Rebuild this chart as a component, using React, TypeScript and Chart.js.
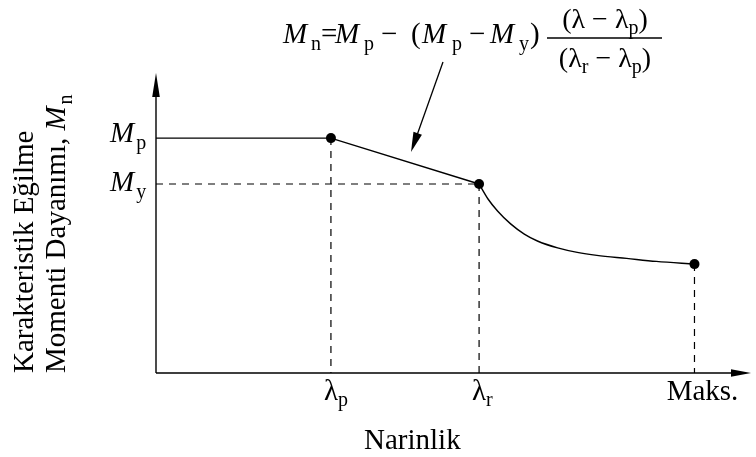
import React, { useEffect, useRef } from "react";
import { Chart, registerables } from "chart.js";
Chart.register(...registerables);

// ---- data (slenderness vs nominal flexural strength) ----
const lambdaP = 29.4;
const lambdaR = 54.3;
const lambdaMax = 90.5;
const Mp = 78.3;
const My = 63.0;
const plateauX = [0, lambdaP, lambdaR];
const plateauY = [Mp, Mp, My];
const curveX = [54.3, 55.8, 57.4, 59.6, 61.9, 64.1, 67.5, 70.8, 74.1, 79.1, 84.1, 90.5];
const curveY = [63.0, 58.0, 54.0, 49.7, 46.3, 44.0, 41.7, 40.2, 39.2, 38.2, 37.2, 36.3];
const xTickValues = [lambdaP, lambdaR, lambdaMax];
const xTickMain = ["λ", "λ", "Maks."];
const xTickSub = ["p", "r", ""];
const yTickValues = [Mp, My];
const yTickMain = ["M", "M"];
const yTickSub = ["p", "y"];
const xTitle = "Narinlik";
const yTitleLine1 = "Karakteristik Eğilme";
const yTitleLine2 = "Momenti Dayanımı, ";

const FONT = '"Liberation Serif", "Times New Roman", serif';

type Part = { t: string; it?: boolean; sub?: boolean; x?: number };

function font(size: number, it?: boolean) {
  return `${it ? "italic " : ""}${size}px ${FONT}`;
}

function partsWidth(ctx: CanvasRenderingContext2D, parts: Part[], size: number, subSize: number) {
  let w = 0;
  parts.forEach((p, i) => {
    ctx.font = font(p.sub ? subSize : size, p.it);
    w += ctx.measureText(p.t).width;
    if (p.it && parts[i + 1] && parts[i + 1].sub) w += 2;
  });
  return w;
}

function drawParts(
  ctx: CanvasRenderingContext2D,
  parts: Part[],
  x: number,
  y: number,
  size: number,
  subSize: number,
  subDy: number
) {
  let cx = x;
  parts.forEach((p, i) => {
    ctx.font = font(p.sub ? subSize : size, p.it);
    const px = p.x !== undefined ? p.x : cx;
    ctx.fillText(p.t, px, p.sub ? y + subDy : y);
    cx = px + ctx.measureText(p.t).width;
    if (p.it && parts[i + 1] && parts[i + 1].sub) cx += 2;
  });
  return cx - x;
}

function arrowHead(ctx: CanvasRenderingContext2D, x1: number, y1: number, x2: number, y2: number, len: number, hw: number) {
  const a = Math.atan2(y2 - y1, x2 - x1);
  const bx = x2 - len * Math.cos(a);
  const by = y2 - len * Math.sin(a);
  ctx.beginPath();
  ctx.moveTo(x2, y2);
  ctx.lineTo(bx + hw * Math.sin(a), by - hw * Math.cos(a));
  ctx.lineTo(bx - hw * Math.sin(a), by + hw * Math.cos(a));
  ctx.closePath();
  ctx.fill();
}

const decorPlugin = {
  id: "decor",
  afterDatasetsDraw(chart: any) {
    const ctx: CanvasRenderingContext2D = chart.ctx;
    const xs = chart.scales.x;
    const ys = chart.scales.y;
    const ca = chart.chartArea;
    const x0 = xs.getPixelForValue(0);
    const y0 = ys.getPixelForValue(0);
    ctx.save();
    ctx.strokeStyle = "#000";
    ctx.fillStyle = "#000";
    ctx.lineWidth = 1.4;
    ctx.setLineDash([]);
    // axes
    ctx.beginPath();
    ctx.moveTo(x0, y0);
    ctx.lineTo(x0, ca.top + 18);
    ctx.moveTo(x0, y0);
    ctx.lineTo(ca.right - 16, y0);
    ctx.stroke();
    arrowHead(ctx, x0, y0, x0, ca.top, 24, 3.8);
    arrowHead(ctx, x0, y0, ca.right, y0, 20, 3.8);

    ctx.textBaseline = "alphabetic";
    ctx.textAlign = "left";
    // x tick labels
    xTickValues.forEach((v, i) => {
      const px = xs.getPixelForValue(v);
      ctx.font = font(29);
      const mw = ctx.measureText(xTickMain[i]).width;
      const left = xTickSub[i] ? px - mw / 2 : px - mw / 2 + 8;
      ctx.fillText(xTickMain[i], left, y0 + 27);
      if (xTickSub[i]) {
        ctx.font = font(20);
        ctx.fillText(xTickSub[i], left + mw, y0 + 33);
      }
    });
    // y tick labels
    yTickValues.forEach((v, i) => {
      const py = ys.getPixelForValue(v);
      const base = i === 0 ? py + 4 : py + 7;
      drawParts(ctx, [{ t: yTickMain[i], it: true }, { t: yTickSub[i], sub: true }], x0 - 46, base, 29, 20, 7);
    });
    // x title
    ctx.font = font(29);
    ctx.fillText(xTitle, 364, y0 + 76);
    // y title (rotated)
    ctx.save();
    ctx.translate(33, y0);
    ctx.rotate(-Math.PI / 2);
    ctx.font = font(29);
    ctx.fillText(yTitleLine1, 0, 0);
    ctx.restore();
    ctx.save();
    ctx.translate(65, y0);
    ctx.rotate(-Math.PI / 2);
    drawParts(ctx, [{ t: yTitleLine2 }, { t: "M", it: true }, { t: "n", sub: true }], 0, 0, 29, 20, 7);
    ctx.restore();

    // formula
    const formula: Part[] = [
      { t: "M", it: true, x: 283 },
      { t: "n", sub: true, x: 311 },
      { t: "=", x: 321 },
      { t: "M", it: true, x: 335 },
      { t: "p", sub: true, x: 364 },
      { t: "−", x: 381 },
      { t: "(", x: 411 },
      { t: "M", it: true, x: 422 },
      { t: "p", sub: true, x: 452 },
      { t: "−", x: 469 },
      { t: "M", it: true, x: 490 },
      { t: "y", sub: true, x: 519 },
      { t: ")", x: 530 },
    ];
    drawParts(ctx, formula, 283, 43, 29, 20, 7);
    const num: Part[] = [{ t: "(λ − λ" }, { t: "p", sub: true }, { t: ")" }];
    const den: Part[] = [{ t: "(λ" }, { t: "r", sub: true }, { t: " − λ" }, { t: "p", sub: true }, { t: ")" }];
    const fc = 605;
    const nw = partsWidth(ctx, num, 28, 20);
    drawParts(ctx, num, fc - nw / 2, 28, 28, 20, 6);
    const dw = partsWidth(ctx, den, 28, 20);
    drawParts(ctx, den, fc - dw / 2, 67, 28, 20, 6);
    ctx.lineWidth = 1.4;
    ctx.beginPath();
    ctx.moveTo(547, 38);
    ctx.lineTo(662, 38);
    ctx.stroke();

    // annotation arrow
    ctx.lineWidth = 1.3;
    ctx.beginPath();
    ctx.moveTo(443, 62);
    ctx.lineTo(416, 138);
    ctx.stroke();
    arrowHead(ctx, 443, 62, 411, 152, 20, 4.5);
    ctx.restore();
  },
};

export default function App() {
  const ref = useRef<HTMLCanvasElement | null>(null);
  useEffect(() => {
    if (!ref.current) return;
    const endY = curveY[curveY.length - 1];
    const dash = {
      borderColor: "#000",
      borderWidth: 1.2,
      borderDash: [7, 6],
      pointRadius: 0,
      tension: 0,
      order: 3,
    };
    const chart = new Chart(ref.current, {
      type: "line",
      data: {
        datasets: [
          { ...dash, data: [{ x: 0, y: My }, { x: lambdaR, y: My }] },
          { ...dash, data: [{ x: lambdaP, y: Mp }, { x: lambdaP, y: 0 }] },
          { ...dash, data: [{ x: lambdaR, y: My }, { x: lambdaR, y: 0 }] },
          { ...dash, data: [{ x: lambdaMax, y: endY }, { x: lambdaMax, y: 0 }] },
          {
            data: plateauX.map((x, i) => ({ x, y: plateauY[i] })),
            borderColor: "#000",
            backgroundColor: "#000",
            borderWidth: 1.4,
            tension: 0,
            pointRadius: plateauX.map((_, i) => (i === 0 ? 0 : 5)),
            pointBorderWidth: 0,
            order: 1,
          },
          {
            data: curveX.map((x, i) => ({ x, y: curveY[i] })),
            borderColor: "#000",
            backgroundColor: "#000",
            borderWidth: 1.4,
            cubicInterpolationMode: "monotone",
            pointRadius: curveX.map((_, i) => (i === curveX.length - 1 ? 5 : 0)),
            pointBorderWidth: 0,
            order: 1,
          },
        ] as any,
      },
      options: {
        animation: false,
        responsive: false,
        devicePixelRatio: 1,
        layout: { padding: { left: 156, right: 1, top: 73, bottom: 84 } },
        plugins: { legend: { display: false }, tooltip: { enabled: false } },
        scales: {
          x: { type: "linear", min: 0, max: 100, display: false },
          y: { type: "linear", min: 0, max: 100, display: false },
        },
      },
      plugins: [decorPlugin],
    });
    return () => chart.destroy();
  }, []);
  return (
    <div style={{ position: "absolute", left: 0, top: 0, width: 756, height: 457, background: "#fff" }}>
      <canvas ref={ref} width={756} height={457} />
    </div>
  );
}
